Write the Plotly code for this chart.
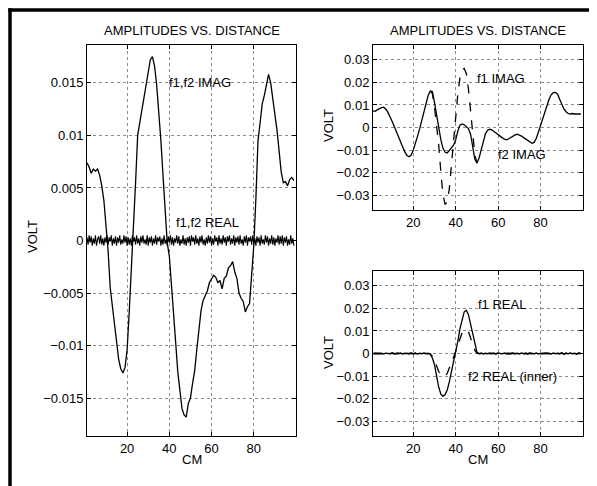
import plotly.graph_objects as go

# ---------------- data ----------------
# Left panel: f1,f2 IMAG (volts x 1e-4), x = 1..99 cm
left_x = list(range(1, 100))
left_imag_e4 = [74, 70, 64, 68, 66, 68, 62, 52, 38, 15,
                -10, -45, -62, -80, -95, -113, -122, -126, -121, -104,
                -68, -28, 5, 55, 100, 112, 124, 140, 152, 160,
                172, 175, 166, 148, 125, 95, 62, 25, -2, -15,
                -40, -68, -97, -125, -145, -160, -166, -168, -155, -150,
                -136, -124, -104, -84, -67, -57, -53, -48, -40, -37,
                -33, -35, -40, -38, -46, -36, -34, -26, -24, -20,
                -30, -36, -50, -55, -58, -68, -63, -60, -35, -5,
                40, 95, 112, 130, 138, 150, 158, 150, 135, 125,
                105, 85, 65, 55, 56, 52, 58, 60, 57]

# Left panel: f1,f2 REAL (noisy near zero, volts x 1e-4), x = 1..99 step 0.5
left_real_x = [1 + 0.5 * i for i in range(197)]
left_real_e4 = [3, -4, 5, -2, 4, -5, 2, -3, 5, -5, 1, 4, -3, 5, -4, 2, -5, 3, -2, 5,
                -4, 3, -1, 5, -5, 2, -3, 4, -5, 3, -2, 5, -4, 1, -3, 5, -2, 4, -5, 3,
                -4, 2, -5, 5, -1, 3, -4, 5, -3, 2, -5, 4, -2, 5, -3, 1, -4, 5, -5, 3,
                -2, 4, -5, 2, -3, 5, -4, 3, -1, 4, -5, 2, -4, 5, -3, 1, -5, 4, -2, 5,
                -4, 3, -5, 2, -2, 5, -3, 4, -5, 1, -3, 5, -4, 2, -5, 3, -2, 4, -5, 5,
                -1, 3, -4, 5, -3, 2, -5, 4, -2, 5, -4, 1, -5, 3, -3, 5, -2, 4, -5, 2,
                -4, 5, -1, 3, -5, 5, -3, 2, -4, 5, -2, 3, -5, 4, -1, 5, -4, 2, -3, 5,
                -5, 3, -2, 4, -4, 5, -3, 1, -5, 4, -2, 5, -5, 3, -1, 4, -4, 5, -3, 2,
                -5, 4, -2, 3, -5, 5, -3, 1, -4, 5, -2, 4, -5, 2, -3, 5, -4, 3, -5, 2,
                -2, 5, -4, 4, -3, 5, -5, 3, -2, 4, -5, 1, -4, 5, -3, 2, -5, 4]

# Right top: f2 IMAG (solid), x = 1..99 cm, volts x 1e-4
rt_x = list(range(1, 100))
f2_imag_e4 = [74, 72, 78, 85, 88, 90, 82, 68, 50, 28,
              5, -20, -42, -65, -86, -108, -124, -130, -122, -100,
              -72, -38, -5, 30, 75, 112, 142, 162, 160, 110,
              50, 0, -55, -92, -110, -113, -100, -90, -78, -55,
              -15, 10, 16, 12, 2, -5, -30, -90, -140, -158,
              -135, -99, -60, -28, -12, -8, -10, -18, -25, -30,
              -38, -46, -52, -55, -50, -44, -38, -33, -30, -33,
              -38, -45, -52, -58, -64, -70, -66, -48, -20, 10,
              40, 72, 98, 125, 145, 155, 156, 148, 125, 100,
              82, 70, 62, 60, 62, 60, 61, 59, 60]

# Right top: f1 IMAG (dashed), where it departs from f2
f1_imag_x = list(range(28, 51))
f1_imag_e4 = [162, 150, 90, 10, -80, -200, -300, -340, -332, -270,
              -170, -50, 60, 150, 220, 255, 262, 240, 170, 80,
              -30, -120, -158]

# Right bottom: f1 REAL (solid) and f2 REAL (dashed), x = 1..99 cm, volts x 1e-4
rb_x = list(range(1, 100))
flat_a = [1, -2, 2, -1, 1, -2, 2, 0, -1, 2, -2, 1, -1, 2, -2, 1, 0, -1, 2, -1, 1, -2, 1, -1, 2, -1, 1]
flat_b = [-1, 2, -2, 1, -1, 2, -1, 1, -2, 2, 0, -1, 2, -2, 1, -1, 2, -1, 1, -2,
          2, -1, 1, -2, 1, 0, -1, 2, -2, 1, -1, 2, -1, 1, -2, 2, -1, 1, -1, 2,
          -2, 1, -1, 2, -1, 1, -2, 1, 0]
f1_real_e4 = flat_a + [-3, -20, -50, -100, -150, -180, -190, -182, -162, -125,
                       -80, -38, 0, 55, 110, 155, 185, 192, 172, 130,
                       88, 40, 6] + flat_b
f2_real_e4 = flat_b[:27] + [-2, -12, -30, -55, -80, -97, -103, -100, -88, -66,
                            -40, -15, 10, 40, 70, 92, 104, 107, 97, 72,
                            42, 15, 2] + flat_a + flat_b[:22]

left_yticks = [-0.015, -0.01, -0.005, 0, 0.005, 0.01, 0.015]
left_yticktext = ["\u22120.015", "\u22120.01", "\u22120.005", "0", "0.005", "0.01", "0.015"]
right_yticks = [-0.03, -0.02, -0.01, 0, 0.01, 0.02, 0.03]
right_yticktext = ["\u22120.03", "\u22120.02", "\u22120.01", "0", "0.01", "0.02", "0.03"]
xticks = [20, 40, 60, 80]

title_text = "AMPLITUDES VS. DISTANCE"

# ---------------- figure ----------------
# the page body has an 8px margin, so the figure is placed at (8, 8)
OFF = 8
W, H = 597 - OFF, 486 - OFF
def px(x):
    return (x - OFF) / W
def py(y):
    return 1 - (y - OFF) / H

def e4(v):
    return [a * 1e-4 for a in v]

fig = go.Figure()
line_solid = dict(color="black", width=1.3)
line_dash = dict(color="black", width=1.3, dash="dash")

fig.add_trace(go.Scatter(x=left_real_x, y=e4(left_real_e4), mode="lines", line=dict(color="black", width=1.1),
                         xaxis="x", yaxis="y", showlegend=False))
fig.add_trace(go.Scatter(x=left_x, y=e4(left_imag_e4), mode="lines", line=line_solid,
                         xaxis="x", yaxis="y", showlegend=False))
fig.add_trace(go.Scatter(x=rt_x, y=e4(f2_imag_e4), mode="lines", line=line_solid,
                         xaxis="x2", yaxis="y2", showlegend=False))
fig.add_trace(go.Scatter(x=f1_imag_x, y=e4(f1_imag_e4), mode="lines", line=line_dash,
                         xaxis="x2", yaxis="y2", showlegend=False))
fig.add_trace(go.Scatter(x=rb_x, y=e4(f1_real_e4), mode="lines", line=line_solid,
                         xaxis="x3", yaxis="y3", showlegend=False))
fig.add_trace(go.Scatter(x=rb_x, y=e4(f2_real_e4), mode="lines", line=line_dash,
                         xaxis="x3", yaxis="y3", showlegend=False))

font = dict(family="Liberation Sans, Arial, Helvetica, sans-serif", size=13, color="black")

def xax(domain, anchor):
    return dict(domain=domain, anchor=anchor, range=[1, 100], tickvals=xticks,
                ticks="inside", ticklen=4, tickcolor="black", showline=True, linecolor="black",
                linewidth=1, mirror="ticks", showgrid=True, gridcolor="#8a8a8a", griddash="dot",
                gridwidth=1, zeroline=False, tickfont=font)

def yax(domain, anchor, rng, vals, text):
    return dict(domain=domain, anchor=anchor, range=rng, tickvals=vals, ticktext=text,
                ticks="inside", ticklen=4, tickcolor="black", showline=True, linecolor="black",
                linewidth=1, mirror="ticks", showgrid=True, gridcolor="#8a8a8a", griddash="dot",
                gridwidth=1, zeroline=False, tickfont=font)

fig.update_layout(
    width=W, height=H, margin=dict(l=0, r=0, t=0, b=0, autoexpand=False),
    paper_bgcolor="white", plot_bgcolor="white", font=font,
    xaxis=xax([px(87), px(296)], "y"),
    yaxis=yax([py(436), py(45)], "x", [-0.0186, 0.0186], left_yticks, left_yticktext),
    xaxis2=xax([px(373), px(583)], "y2"),
    yaxis2=yax([py(210), py(45)], "x2", [-0.0366, 0.0366], right_yticks, right_yticktext),
    xaxis3=xax([px(373), px(583)], "y3"),
    yaxis3=yax([py(436), py(271)], "x3", [-0.0366, 0.0366], right_yticks, right_yticktext),
)

def pa(text, x, y, angle=0):
    return dict(text=text, x=px(x), y=py(y), xref="paper", yref="paper", showarrow=False,
                font=font, textangle=angle, xanchor="center", yanchor="middle")

def da(text, x, y, ax):
    return dict(text=text, x=x, y=y, xref="x" + ax, yref="y" + ax, showarrow=False,
                font=font, xanchor="center", yanchor="middle")

ann = [
    pa(title_text, 192, 30.5),
    pa(title_text, 478, 30.5),
    pa("CM", 192, 459),
    pa("CM", 478, 459),
    pa("VOLT", 32, 237, -90),
    pa("VOLT", 328, 126, -90),
    pa("VOLT", 328, 353, -90),
    da("f1,f2 IMAG", 54.5, 0.015, ""),
    da("f1,f2 REAL", 58, 0.0017, ""),
    da("f1 IMAG", 61.3, 0.0216, "2"),
    da("f2 IMAG", 71.4, -0.0121, "2"),
    da("f1 REAL", 61.7, 0.0219, "3"),
    da("f2 REAL (inner)", 66.6, -0.0103, "3"),
]
fig.update_layout(annotations=ann)

# outer frame: only the top and left edges fall inside the picture
fig.add_shape(type="line", xref="paper", yref="paper", x0=px(8.25), x1=1.0, y0=py(10), y1=py(10),
              line=dict(color="black", width=3.5))
fig.add_shape(type="line", xref="paper", yref="paper", x0=px(10), x1=px(10), y0=0.0, y1=py(8.25),
              line=dict(color="black", width=3.5))

fig.write_html("out.html")
